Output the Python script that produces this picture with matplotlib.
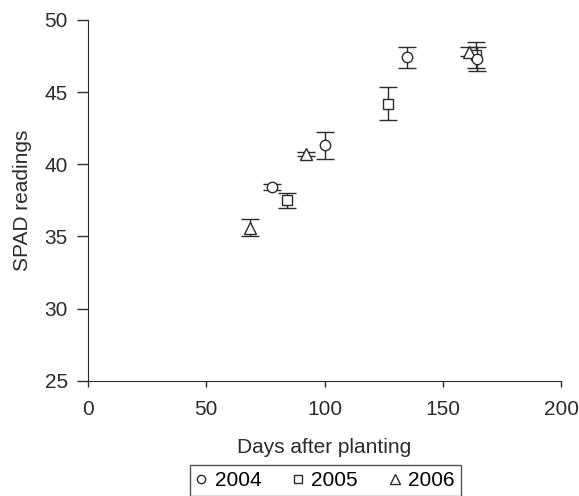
import numpy as np
import matplotlib.pyplot as plt

plt.rcParams['font.family'] = ['Liberation Sans', 'DejaVu Sans']
plt.rcParams['font.size'] = 15

# SPAD readings by year (days after planting, mean, error)
days_2004 = [78, 100, 135, 164.5]
spad_2004 = [38.4, 41.3, 47.4, 47.3]
err_2004 = [0.2, 0.95, 0.7, 0.85]

days_2005 = [84, 127, 164]
spad_2005 = [37.5, 44.2, 47.6]
err_2005 = [0.5, 1.15, 0.9]

days_2006 = [68.5, 92, 161]
spad_2006 = [35.6, 40.7, 47.8]
err_2006 = [0.6, 0.15, 0.3]

ink = '#2b2b2b'

fig = plt.figure(figsize=(5.79, 4.96), dpi=100)
ax = fig.add_axes([0.152, 0.232, 0.817, 0.728])

ax.errorbar(days_2005, spad_2005, yerr=err_2005, fmt='s', ms=7.5, mfc='white', mec=ink,
            ecolor=ink, elinewidth=1, capsize=6.5, capthick=1, mew=1, label='2005', zorder=2)
ax.errorbar(days_2006, spad_2006, yerr=err_2006, fmt='^', ms=8.5, mfc='white', mec=ink,
            ecolor=ink, elinewidth=1, capsize=6.5, capthick=1, mew=1, label='2006', zorder=2)
ax.errorbar(days_2004, spad_2004, yerr=err_2004, fmt='o', ms=7.5, mfc='white', mec=ink,
            ecolor=ink, elinewidth=1, capsize=6.5, capthick=1, mew=1, label='2004', zorder=3)

ax.set_xlim(0, 200)
ax.set_ylim(25, 50)
ax.set_xticks([0, 50, 100, 150, 200])
ax.set_yticks([25, 30, 35, 40, 45, 50])
ax.set_xlabel('Days after planting', labelpad=14, color=ink)
ax.set_ylabel('SPAD readings', color=ink, labelpad=9)

for s in ['top', 'right']:
    ax.spines[s].set_visible(False)
for s in ['left', 'bottom']:
    ax.spines[s].set_color(ink)
ax.tick_params(colors=ink, width=1)
ax.tick_params(axis='x', length=4.5, pad=9)
ax.tick_params(axis='y', length=8, pad=6.5)

handles, labels = ax.get_legend_handles_labels()
order = [labels.index(y) for y in ['2004', '2005', '2006']]
handles = [handles[i][0] for i in order]
labels = [labels[i] for i in order]
leg = fig.legend(handles, labels, loc='upper center', bbox_to_anchor=(0.562, 0.063),
                 ncol=3, frameon=True, fancybox=False, edgecolor=ink,
                 handlelength=0.5, handletextpad=0.4, columnspacing=1.5,
                 borderpad=0.3, borderaxespad=0, markerscale=0.8)
leg.get_frame().set_linewidth(1)

fig.savefig('out.png', dpi=100)
